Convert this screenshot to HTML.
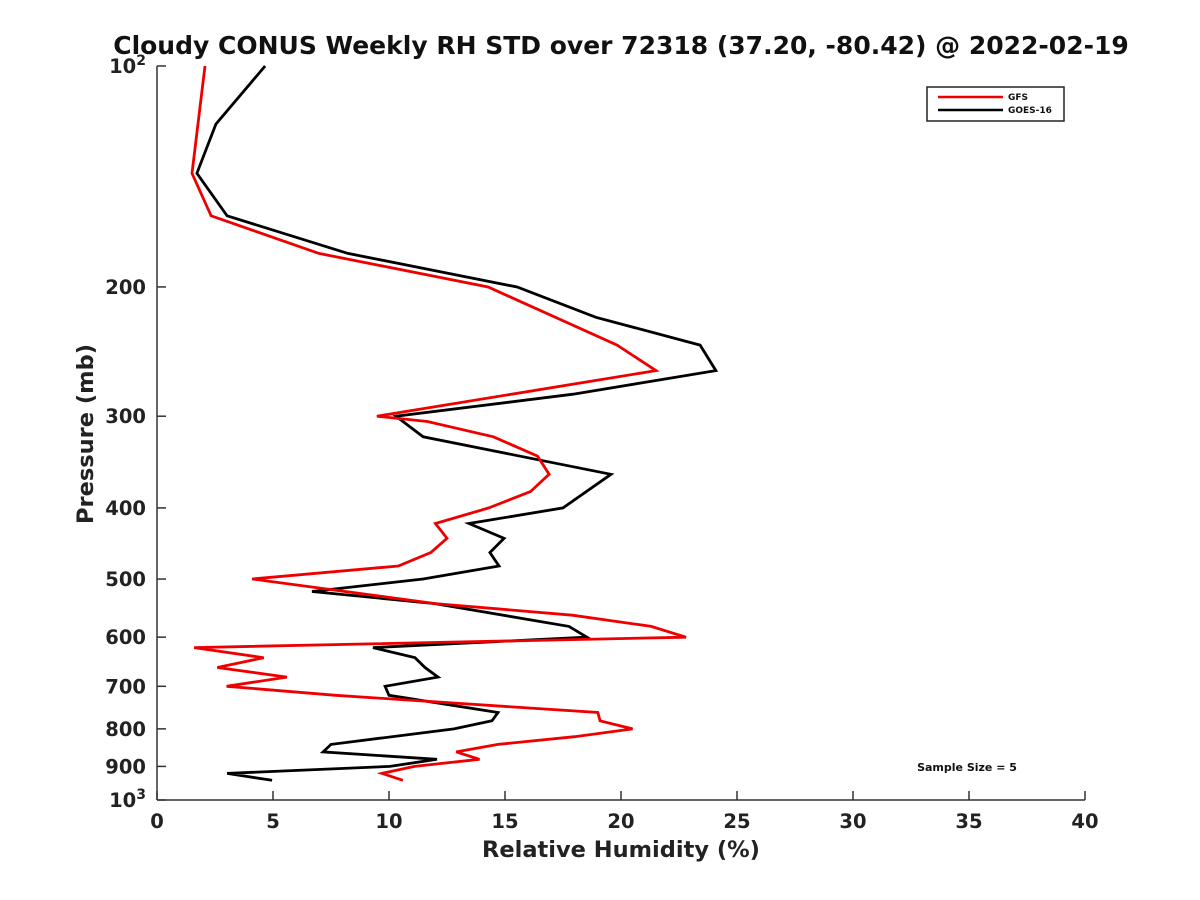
<!DOCTYPE html>
<html><head><meta charset="utf-8"><style>
body{margin:0;background:#fff;}
svg{display:block;font-family:"DejaVu Sans","Liberation Sans",sans-serif;font-weight:bold;}
</style></head><body>
<svg id="chart" width="1200" height="900">
<rect width="1200" height="900" fill="#fff"/>
<text x="621" y="54" text-anchor="middle" font-size="25" fill="#111">Cloudy CONUS Weekly RH STD over 72318 (37.20, -80.42) @ 2022-02-19</text>
<g id="axes"></g>
<g id="series"></g>
<g>
<rect x="927" y="87" width="137" height="34" fill="#fff" stroke="#222" stroke-width="1.5"/>
<line x1="938" y1="97" x2="1003" y2="97" stroke="#e00" stroke-width="2.5"/>
<text x="1008" y="100" font-size="9" fill="#111">GFS</text>
<line x1="938" y1="110" x2="1003" y2="110" stroke="#000" stroke-width="2.5"/>
<text x="1008" y="113" font-size="9" fill="#111">GOES-16</text>
</g>
<text x="967" y="771" text-anchor="middle" font-size="11" fill="#111">Sample Size = 5</text>
<text x="621" y="857" text-anchor="middle" font-size="22.5" fill="#222">Relative Humidity (%)</text>
<text x="93" y="434" text-anchor="middle" font-size="22.5" fill="#222" transform="rotate(-90 93 434)">Pressure (mb)</text>
</svg>
<script>
const xTicks=[0,5,10,15,20,25,30,35,40];
const yTicks=[100,200,300,400,500,600,700,800,900,1000];
const goesP=[100,120,140,160,180,200,220,240,260,280,300,320,360,400,420,440,460,480,500,520,540,580,600,620,640,660,680,700,720,760,780,800,840,860,880,900,920,940];
const goesV=[4.66,2.54,1.72,3.02,8.23,15.52,18.92,23.41,24.09,17.93,10.3,11.47,19.57,17.5,13.45,14.96,14.35,14.74,11.47,6.68,11.98,17.76,18.53,9.31,11.12,11.55,12.11,9.83,10.0,14.7,14.44,12.8,7.5,7.16,12.07,10.04,3.02,4.96];
const gfsP=[100,140,160,180,200,240,260,300,305,320,340,360,380,400,420,440,460,480,500,540,560,580,600,620,640,660,680,700,720,760,780,800,820,840,860,880,900,920,940];
const gfsV=[2.07,1.51,2.33,6.98,14.27,19.83,21.51,9.48,11.65,14.5,16.4,16.9,16.1,14.3,12.0,12.5,11.8,10.4,4.1,12.0,17.9,21.3,22.8,1.6,4.6,2.6,5.6,3.0,7.7,19.0,19.1,20.5,18.0,14.7,12.9,13.9,11.1,9.7,10.6];
const X0=157,X1=1085,Y0=66,Y1=800;
function xs(v){return X0+(v-0)/(40-0)*(X1-X0);}
function ys(p){return Y0+Math.log10(p/100)*(Y1-Y0);}
const NS='http://www.w3.org/2000/svg';
function mk(t,a,parent){const e=document.createElementNS(NS,t);for(const k in a)e.setAttribute(k,a[k]);parent.appendChild(e);return e;}
const ax=document.getElementById('axes');
const xl=mk('line',{x1:X0,y1:Y1,x2:X1,y2:Y1,stroke:'#333','stroke-width':1.5},ax);


const yl=mk('line',{x1:X0,y1:Y0,x2:X0,y2:Y1,stroke:'#333','stroke-width':1.5},ax);


xTicks.forEach(v=>{const x=xs(v);
 mk('line',{x1:x,y1:Y1,x2:x,y2:Y1-9,stroke:'#333','stroke-width':1.5},ax);
 const t=mk('text',{x:x,y:Y1+28,'text-anchor':'middle','font-size':19.5,fill:'#222'},ax);t.textContent=v;
 
 
});
yTicks.forEach(p=>{const y=ys(p);
 mk('line',{x1:X0,y1:y,x2:X0+9,y2:y,stroke:'#333','stroke-width':1.5},ax);
 const t=mk('text',{x:X0-11,y:y+7,'text-anchor':'end','font-size':19.5,fill:'#222'},ax);
 if(p===100){t.innerHTML='10<tspan dy="-8" font-size="14">2</tspan>';}
 else if(p===1000){t.innerHTML='10<tspan dy="-8" font-size="14">3</tspan>';}
 else t.textContent=p;
 
 
});
const sg=document.getElementById('series');
function draw(P,V,color,name){
 const d=P.map((p,i)=>(i?'L':'M')+xs(V[i]).toFixed(1)+','+ys(p).toFixed(1)).join(' ');
 const e=mk('path',{d:d,fill:'none',stroke:color,'stroke-width':2.8,'stroke-linejoin':'miter'},sg);
 
 
}
draw(goesP,goesV,'#000','goes16-line');
draw(gfsP,gfsV,'#e00','gfs-line');
</script>
</body></html>
